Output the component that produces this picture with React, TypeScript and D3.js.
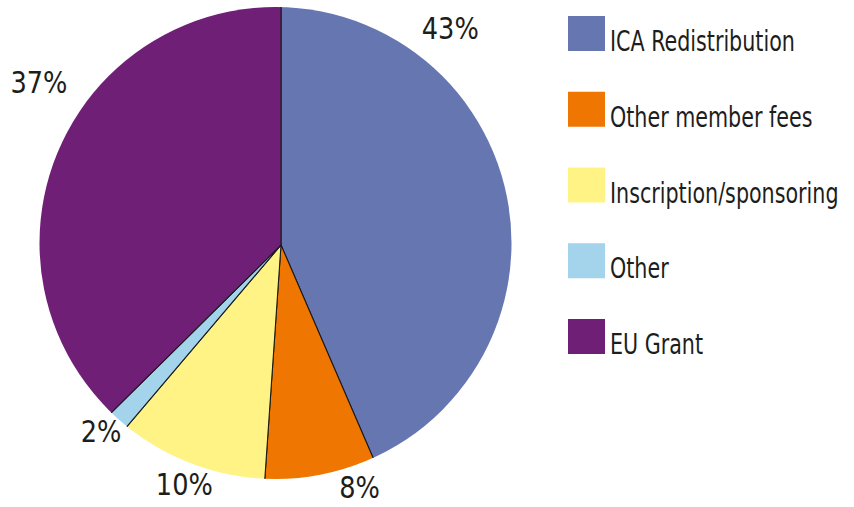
import React from "react";
import * as d3 from "d3";

// slice data, clockwise from 12 o'clock
const categories = ["ICA Redistribution", "Other member fees", "Inscription/sponsoring", "Other", "EU Grant"];
const shares = [43.5, 7.6, 10.1, 1.4, 37.4];
const pctLabels = ["43%", "8%", "10%", "2%", "37%"];
const colors = ["#6676B1", "#EE7601", "#FFF386", "#A3D4EB", "#701F77"];
// where each % label sits around the pie (degrees clockwise from top)
const labelAngles = [38, 162, 202, 224, 304];
const labelRadii = [275, 254, 258, 259, 292];

const W = 854;
const H = 507;
const FONT = "'Liberation Sans Narrow', 'DejaVu Sans Condensed', Arial, sans-serif";

export default function App() {
  // the disc and the point the slices meet at are not quite the same in the original
  const disc = { cx: 275.5, cy: 243, r: 236 };
  const apex = { x: 281, y: 245 };

  const pie = d3
    .pie<number>()
    .sort(null)
    .value((d) => d);
  const arcs = pie(shares);

  const sliceArc = d3.arc<d3.PieArcDatum<number>>().innerRadius(0).outerRadius(320);

  const labelPos = (i: number) => {
    const a = (labelAngles[i] * Math.PI) / 180;
    const r = labelRadii[i];
    return [Math.sin(a) * r, -Math.cos(a) * r];
  };

  const legendY = d3
    .scalePoint<string>()
    .domain(categories)
    .range([16, 319]);

  return (
    <svg width={W} height={H} style={{ position: "absolute", left: 0, top: 0, background: "#fff" }}>
      <defs>
        <clipPath id="disc">
          <circle cx={disc.cx} cy={disc.cy} r={disc.r} />
        </clipPath>
      </defs>
      <g clipPath="url(#disc)">
        <g transform={`translate(${apex.x},${apex.y})`}>
          {arcs.map((a, i) => (
            <path key={i} d={sliceArc(a) || ""} fill={colors[i]} stroke="#1a1a1a" strokeWidth={1.1} />
          ))}
        </g>
      </g>
      <g transform={`translate(${apex.x},${apex.y})`}>
        {arcs.map((a, i) => {
          const [x, y] = labelPos(i);
          return (
            <text
              key={i}
              transform={`translate(${x},${y}) scale(0.92,1)`}
              dy="0.36em"
              textAnchor="middle"
              fontFamily={FONT}
              fontSize={31}
              fill="#1d1d1b"
            >
              {pctLabels[i]}
            </text>
          );
        })}
      </g>
      <g>
        {categories.map((c, i) => (
          <g key={c} transform={`translate(568,${legendY(c)})`}>
            <rect width={37} height={35} fill={colors[i]} />
            <text transform="translate(42,35) scale(0.82,1)" fontFamily={FONT} fontSize={28} fill="#1d1d1b">
              {c}
            </text>
          </g>
        ))}
      </g>
    </svg>
  );
}
